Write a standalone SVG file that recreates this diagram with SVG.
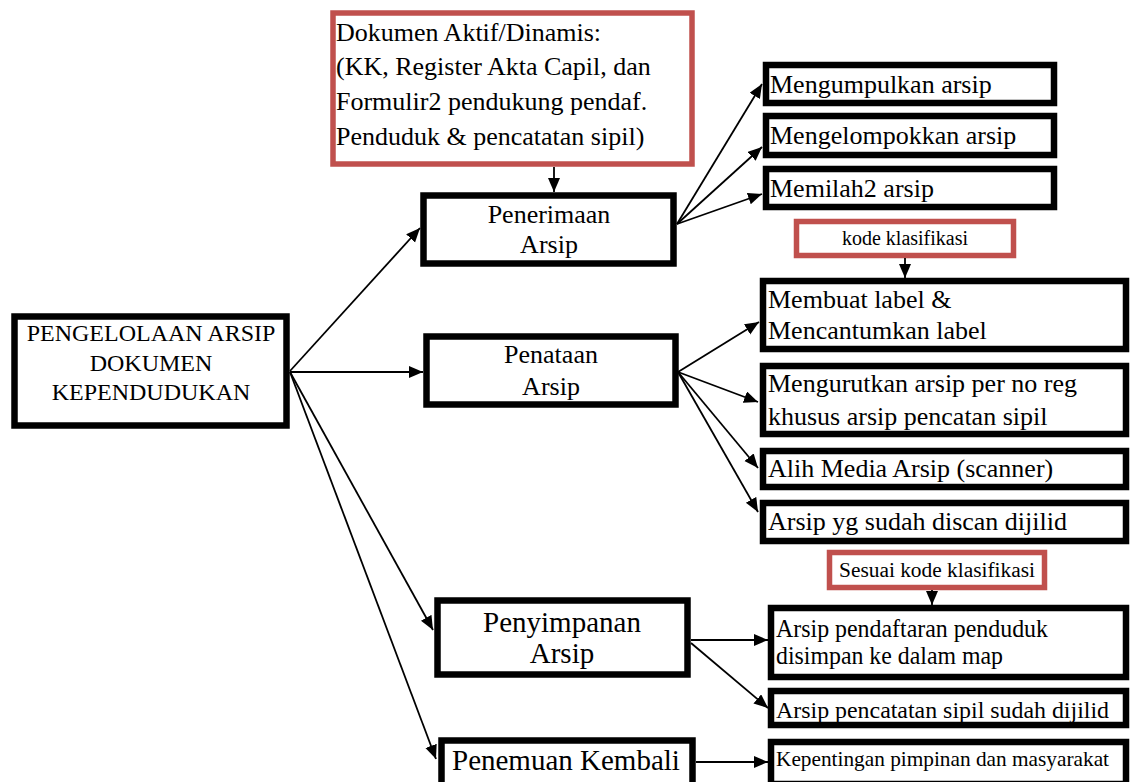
<svg xmlns="http://www.w3.org/2000/svg" width="1131" height="782" viewBox="0 0 1131 782">
<defs>
<marker id="ah" markerUnits="userSpaceOnUse" markerWidth="16" markerHeight="14" refX="14" refY="6" orient="auto">
<path d="M0,0 L14,6 L0,12 z" fill="#000"/>
</marker>
<style>
.b{fill:#fff;stroke:#000;stroke-width:6.5}
.r{fill:#fff;stroke:#C0504D;stroke-width:5.5}
.c{text-anchor:middle}
.con line{stroke:#000;stroke-width:1.8;marker-end:url(#ah)}
</style>
</defs>
<rect width="1131" height="782" fill="#fff"/>
<g id="n-dokumen"><rect class="r" x="333" y="13" width="359" height="151"/>
<text x="336" y="41" font-size="26" font-family="'Liberation Serif', serif">Dokumen Aktif/Dinamis:</text>
<text x="336" y="75" font-size="26" font-family="'Liberation Serif', serif">(KK, Register Akta Capil,  dan</text>
<text x="336" y="110" font-size="26" font-family="'Liberation Serif', serif">Formulir2 pendukung pendaf.</text>
<text x="336" y="145" font-size="26" font-family="'Liberation Serif', serif">Penduduk &amp; pencatatan sipil)</text></g>
<g id="n-main"><rect class="b" x="14.5" y="316.5" width="272" height="109"/>
<text class="c" x="151" y="341" font-size="24" font-family="'Liberation Serif', serif">PENGELOLAAN ARSIP</text>
<text class="c" x="151" y="371" font-size="24" font-family="'Liberation Serif', serif">DOKUMEN</text>
<text class="c" x="151" y="400" font-size="24" font-family="'Liberation Serif', serif">KEPENDUDUKAN</text></g>
<g id="n-penerimaan"><rect class="b" x="423.5" y="195.5" width="250" height="68"/>
<text class="c" x="549" y="223" font-size="26" font-family="'Liberation Serif', serif">Penerimaan</text>
<text class="c" x="549" y="253" font-size="26" font-family="'Liberation Serif', serif">Arsip</text></g>
<g id="n-penataan"><rect class="b" x="426.5" y="336.5" width="249" height="68"/>
<text class="c" x="551" y="363" font-size="26" font-family="'Liberation Serif', serif">Penataan</text>
<text class="c" x="551" y="395" font-size="26" font-family="'Liberation Serif', serif">Arsip</text></g>
<g id="n-penyimpanan"><rect class="b" x="437.5" y="600.5" width="250" height="74"/>
<text class="c" x="562" y="632" font-size="29" font-family="'Liberation Serif', serif">Penyimpanan</text>
<text class="c" x="562" y="663" font-size="29" font-family="'Liberation Serif', serif">Arsip</text></g>
<g id="n-penemuan"><rect class="b" x="441.5" y="740.5" width="251" height="50"/>
<text x="452" y="770" font-size="29" font-family="'Liberation Serif', serif">Penemuan Kembali</text></g>
<g id="n-mengumpulkan"><rect class="b" x="766" y="65" width="288" height="38"/>
<text x="770" y="93" font-size="26" font-family="'Liberation Serif', serif">Mengumpulkan arsip</text></g>
<g id="n-mengelompokkan"><rect class="b" x="766" y="116" width="288" height="39"/>
<text x="770" y="144" font-size="26" font-family="'Liberation Serif', serif">Mengelompokkan arsip</text></g>
<g id="n-memilah"><rect class="b" x="766" y="169" width="288" height="38"/>
<text x="770" y="197" font-size="26" font-family="'Liberation Serif', serif">Memilah2 arsip</text></g>
<g id="n-kode"><rect class="r" x="796.5" y="221.5" width="217" height="34"/>
<text class="c" x="905" y="245" font-size="20" font-family="'Liberation Serif', serif">kode klasifikasi</text></g>
<g id="n-membuat"><rect class="b" x="763" y="281" width="363" height="68"/>
<text x="768" y="308" font-size="26" font-family="'Liberation Serif', serif">Membuat label &amp;</text>
<text x="768" y="339" font-size="26" font-family="'Liberation Serif', serif">Mencantumkan label</text></g>
<g id="n-mengurutkan"><rect class="b" x="763" y="366" width="363" height="68"/>
<text x="768" y="392" font-size="26" font-family="'Liberation Serif', serif">Mengurutkan arsip per no reg</text>
<text x="768" y="425" font-size="26" font-family="'Liberation Serif', serif">khusus arsip pencatan sipil</text></g>
<g id="n-alih"><rect class="b" x="763" y="451" width="363" height="36"/>
<text x="768" y="477" font-size="26" font-family="'Liberation Serif', serif">Alih Media Arsip (scanner)</text></g>
<g id="n-dijilid"><rect class="b" x="763" y="503" width="363" height="38"/>
<text x="768" y="530" font-size="26" font-family="'Liberation Serif', serif">Arsip yg sudah discan dijilid</text></g>
<g id="n-sesuai"><rect class="r" x="829.5" y="552.5" width="215" height="35"/>
<text x="839" y="577" font-size="20" font-family="'Liberation Serif', serif" textLength="196" lengthAdjust="spacingAndGlyphs">Sesuai kode klasifikasi</text></g>
<g id="n-pendaftaran"><rect class="b" x="771" y="608" width="355" height="69"/>
<text x="776" y="637" font-size="25" font-family="'Liberation Serif', serif" textLength="272" lengthAdjust="spacingAndGlyphs">Arsip pendaftaran penduduk</text>
<text x="776" y="664" font-size="25" font-family="'Liberation Serif', serif" textLength="227" lengthAdjust="spacingAndGlyphs">disimpan ke dalam map</text></g>
<g id="n-pencatatan"><rect class="b" x="771" y="691" width="355" height="34"/>
<text x="776" y="718" font-size="24" font-family="'Liberation Serif', serif" textLength="333" lengthAdjust="spacingAndGlyphs">Arsip pencatatan sipil sudah dijilid</text></g>
<g id="n-kepentingan"><rect class="b" x="771" y="742" width="355" height="42"/>
<text x="776" y="766" font-size="21" font-family="'Liberation Serif', serif" textLength="333" lengthAdjust="spacingAndGlyphs">Kepentingan pimpinan dan masyarakat</text></g>
<g id="connectors" class="con">
<line x1="554" y1="167" x2="554" y2="192"/>
<line x1="905" y1="258" x2="905" y2="278"/>
<line x1="932" y1="590" x2="932" y2="605"/>
<line x1="290" y1="371" x2="420" y2="228"/>
<line x1="290" y1="372" x2="423" y2="372"/>
<line x1="290" y1="372" x2="433" y2="630"/>
<line x1="290" y1="372" x2="436" y2="759"/>
<line x1="677" y1="224" x2="762" y2="84"/>
<line x1="677" y1="224" x2="762" y2="147"/>
<line x1="677" y1="224" x2="762" y2="194"/>
<line x1="678" y1="372" x2="759" y2="322"/>
<line x1="678" y1="372" x2="758" y2="402"/>
<line x1="678" y1="372" x2="758" y2="468"/>
<line x1="678" y1="372" x2="758" y2="512"/>
<line x1="691" y1="640" x2="768" y2="640"/>
<line x1="691" y1="643" x2="768" y2="708"/>
<line x1="696" y1="762" x2="768" y2="762"/>
</g>
</svg>
